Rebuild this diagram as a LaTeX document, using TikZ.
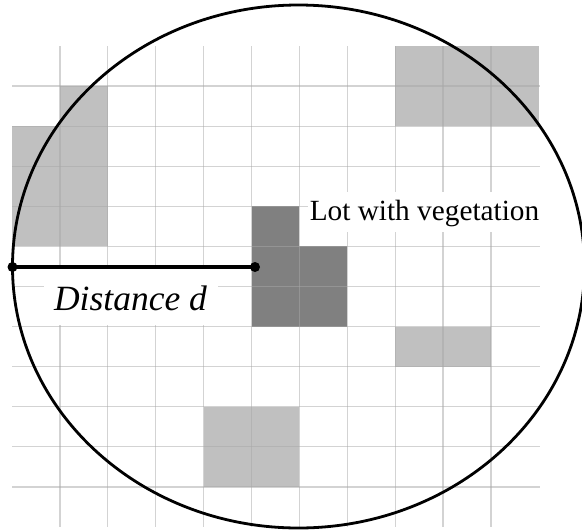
\documentclass[tikz,border=0pt]{standalone}
\usepackage{fontspec}
\setmainfont{Liberation Serif}
\definecolor{lightveg}{HTML}{C0C0C0}
\definecolor{darkveg}{HTML}{808080}
\definecolor{gridcol}{HTML}{A8A8A8}
\begin{document}
\begin{tikzpicture}[x=1pt,y=-1pt,
  lightcell/.style={fill=lightveg},
  darkcell/.style={fill=darkveg},
  gridline/.style={draw=gridcol,draw opacity=0.5,line width=1.3pt},
  rim/.style={draw=black,line width=2.8pt},
  distline/.style={draw=black,line width=3.4pt},
  dot/.style={circle,fill=black,inner sep=0pt,minimum size=10pt},
  lotlabel/.style={fill=white,inner sep=0pt,anchor=base,font=\fontsize{29.3}{31}\selectfont},
  distlabel/.style={fill=white,inner sep=0pt,anchor=base,font=\fontsize{35.5}{38}\selectfont\itshape}]
\useasboundingbox (0,0) rectangle (582,531);
\def\cw{47.9}\def\ch{40.08}
% cells: (col,row) -> (12+cw*col, 46+ch*row)
\newcommand{\cell}[3]{\fill[#1] ({12+\cw*#2},{46+\ch*#3}) rectangle ({12+\cw*(#2+1)},{46+\ch*(#3+1)});}
\foreach \r in {1,...,4} {\cell{lightcell}{1}{\r}}
\foreach \r in {2,...,4} {\cell{lightcell}{0}{\r}}
\foreach \c in {8,9,10} {\foreach \r in {0,1} {\cell{lightcell}{\c}{\r}}}
\foreach \c in {8,9} {\cell{lightcell}{\c}{7}}
\foreach \c in {4,5} {\foreach \r in {9,10} {\cell{lightcell}{\c}{\r}}}
\foreach \r in {4,5,6} {\cell{darkcell}{5}{\r}}
\foreach \r in {5,6} {\cell{darkcell}{6}{\r}}
% grid
\foreach \i in {1,...,10} {\draw[gridline] ({12+\cw*\i},46) -- ({12+\cw*\i},527);}
\foreach \j in {1,...,11} {\draw[gridline] (12,{46+\ch*\j}) -- (540,{46+\ch*\j});}
% labels
\node[lotlabel,minimum width=234pt,text height=28pt,text depth=12pt] (lot) at (424.5,220) {Lot with vegetation};
\node[distlabel,minimum width=174pt,text height=44pt,text depth=15pt] (dist) at (130.5,310) {Distance \textit{d}};
% ellipse
\draw[rim] (298.5,266.5) ellipse [x radius=286, y radius=261.5];
% distance
\node[dot] (dl) at (12.5,267) {};
\node[dot] (dr) at (255,267) {};
\draw[distline] (dl.center) -- (dr.center);
\end{tikzpicture}
\end{document}
